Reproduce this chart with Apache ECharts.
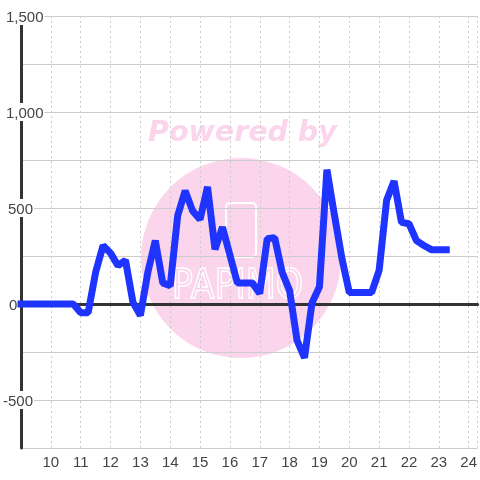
<!DOCTYPE html>
<html><head><meta charset="utf-8">
<style>html,body{margin:0;padding:0;background:#fff}#c{width:480px;height:480px}</style>
<script src="https://cdn.jsdelivr.net/npm/echarts@6/dist/echarts.min.js"></script>
</head><body><div id="c"></div>
<script>
const hours=[9,9.25,9.5,9.75,10,10.25,10.5,10.75,11,11.25,11.5,11.75,12,12.25,12.5,12.75,13,13.25,13.5,13.75,14,14.25,14.5,14.75,15,15.25,15.5,15.75,16,16.25,16.5,16.75,17,17.25,17.5,17.75,18,18.25,18.5,18.75,19,19.25,19.5,19.75,20,20.25,20.5,20.75,21,21.25,21.5,21.75,22,22.25,22.5,22.75,23,23.25];
const values=[0,0,0,0,0,0,0,0,-45,-45,165,305,265,200,228,10,-60,165,330,110,95,460,590,485,440,610,285,400,255,110,110,110,55,340,345,165,70,-190,-280,5,90,700,465,240,60,60,60,60,175,540,640,425,418,330,305,283,283,283];
const yMin=-750, yMax=1500, yStep=250;
const xMin=9, xMax=24.3;
const ch=echarts.init(document.getElementById('c'),null,{renderer:'canvas'});
const fontFamily='"Liberation Sans", Arial, sans-serif';
ch.setOption({
  animation:false,
  backgroundColor:'#fff',
  grid:{left:20.5,right:0,top:16,bottom:32},
  graphic:{elements:[
    {type:'circle',z:-5,shape:{cx:241,cy:258,r:100},style:{fill:'#fbd5ec'},silent:true},
    {type:'text',z:-5,x:148,y:119,style:{text:'Powered by',fill:'#fbd5ec',font:'italic bold 28.5px "DejaVu Sans", sans-serif'},silent:true},
    {type:'rect',z:-4,shape:{x:226,y:203,width:30,height:54,r:4},style:{fill:'none',stroke:'#fff',lineWidth:2},silent:true},
    {type:'text',z:-4,x:172,y:268,scaleX:0.87,style:{text:'PAPIMO',fill:'none',stroke:'#fff',lineWidth:1.5,font:'40px "DejaVu Sans", sans-serif'},silent:true}
  ]},
  xAxis:[{
    type:'value',min:xMin,max:xMax,interval:1,position:'bottom',
    axisLine:{onZero:false,show:false},axisTick:{show:false},
    splitLine:{show:true,lineStyle:{color:'#ccc',type:[2,3],width:1}},
    axisLabel:{color:'#444',fontSize:15,fontFamily,margin:7,showMinLabel:false,showMaxLabel:false,hideOverlap:false}
  },{
    type:'value',min:xMin,max:xMax,interval:1,position:'top',
    axisLine:{show:true,onZero:true,lineStyle:{color:'#333',width:3}},
    axisTick:{show:false},axisLabel:{show:false},splitLine:{show:false}
  }],
  yAxis:{
    type:'value',min:yMin,max:yMax,interval:yStep,
    axisLine:{show:true,onZero:false,lineStyle:{color:'#333',width:3}},
    axisTick:{show:false},
    splitLine:{show:true,lineStyle:{color:'#ccc',width:1}},
    axisLabel:{
      inside:true,margin:-18,align:'left',
      showMinLabel:false,hideOverlap:false,
      formatter:function(v){
        if(v%500!==0) return '';
        const s=(v===1500||v===1000)?'a':(v===500?'b':(v===0?'c':'d'));
        return '{'+s+'|'+echarts.format.addCommas(v)+'}';
      },
      rich:{
        a:{color:'#444',fontSize:15,fontFamily,backgroundColor:'#fff',padding:[3,1,0,3]},
        b:{color:'#444',fontSize:15,fontFamily,backgroundColor:'#fff',padding:[3,1,0,5]},
        c:{color:'#444',fontSize:15,fontFamily,backgroundColor:'#fff',padding:[3,1,0,6]},
        d:{color:'#444',fontSize:15,fontFamily,backgroundColor:'#fff',padding:[3,1,0,0]}
      }
    }
  },
  series:[{
    type:'line',clip:false,symbol:'none',smooth:false,z:5,xAxisIndex:0,
    data:hours.map((h,i)=>[h,values[i]]),
    lineStyle:{color:'#1f35ff',width:7,cap:'square',join:'bevel'}
  }]
});
</script></body></html>
